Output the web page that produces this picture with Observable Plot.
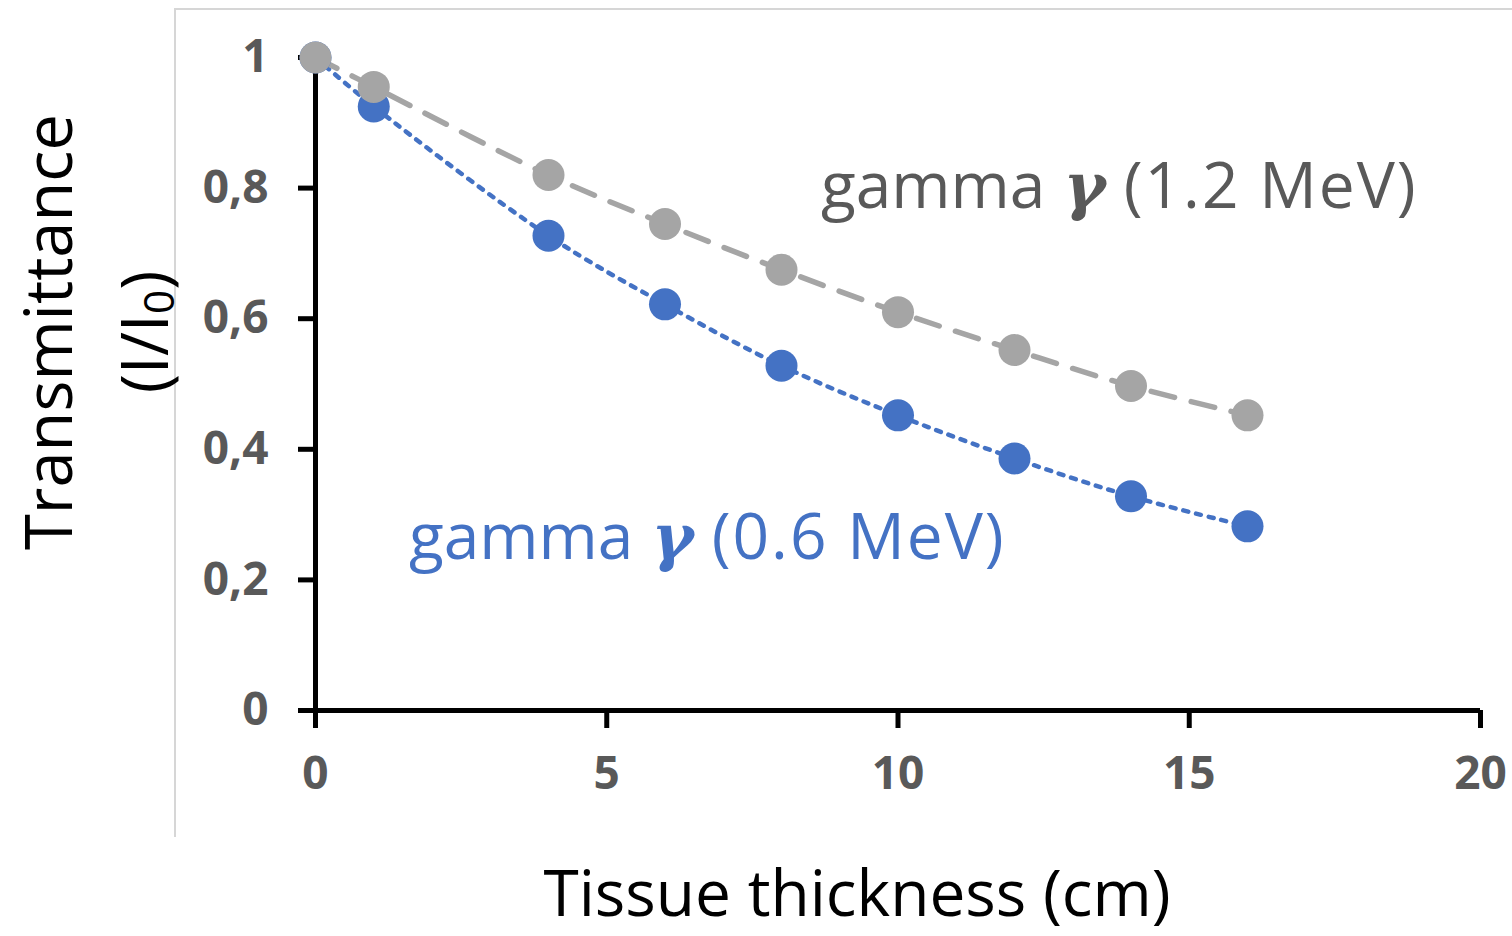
<!DOCTYPE html>
<html><head><meta charset="utf-8">
<script src="https://cdn.jsdelivr.net/npm/d3@7"></script>
<script src="https://cdn.jsdelivr.net/npm/@observablehq/plot@0.6"></script>
<style>
body{margin:0;background:#fff;}
#wrap{position:relative;width:1512px;height:936px;overflow:hidden;font-family:"Open Sans",sans-serif;}
#wrap svg{position:absolute;left:0;top:0;}
.border{position:absolute;left:174px;top:8px;width:1400px;height:827px;border-left:2px solid #d6d6d6;border-top:2px solid #d6d6d6;}
.lbl{position:absolute;white-space:nowrap;line-height:1;}
.g{font-family:"DejaVu Serif",serif;font-style:italic;font-weight:bold;margin:0 18px 0 18px;}
.p{letter-spacing:2px;}
</style></head><body><div id="wrap"><div class="border"></div></div>
<script>
const thickness = [0, 1, 4, 6, 8, 10, 12, 14, 16];
const gamma12 = [1, 0.955, 0.82, 0.745, 0.675, 0.61, 0.552, 0.497, 0.452];
const gamma06 = [1, 0.925, 0.727, 0.622, 0.528, 0.452, 0.386, 0.328, 0.282];
const xTicks = [0, 5, 10, 15, 20];
const yTicks = [0, 0.2, 0.4, 0.6, 0.8, 1];
const seriesNames = ["gamma γ (1.2 MeV)", "gamma γ (0.6 MeV)"];
const xLabel = "Tissue thickness (cm)";
const yLabel = "Transmittance";

const gray = "#A5A5A5", blue = "#4472C4";
const d12 = thickness.map((t, i) => ({t, v: gamma12[i]}));
const d06 = thickness.map((t, i) => ({t, v: gamma06[i]}));
const fmt = d => String(d).replace(".", ",");

const plot = Plot.plot({
  width: 1512, height: 936,
  marginLeft: 315, marginRight: 32, marginTop: 57, marginBottom: 226,
  style: {fontFamily: "Open Sans, sans-serif", background: "transparent", overflow: "visible"},
  x: {domain: [0, 20]},
  y: {domain: [0, 1]},
  marks: [
    Plot.axisY({ticks: yTicks, tickSize: 17, tickPadding: 30, tickFormat: fmt, stroke: "black", strokeWidth: 5, fill: "#595959", fontSize: 46, fontWeight: "bold", label: null}),
    Plot.axisX({ticks: xTicks, tickSize: 18, tickPadding: 28, stroke: "black", strokeWidth: 5, fill: "#595959", fontSize: 46, fontWeight: "bold", label: null}),
    Plot.ruleX([0], {y1: 0, y2: 1, stroke: "black", strokeWidth: 5}),
    Plot.ruleY([0], {x1: 0, x2: 20, stroke: "black", strokeWidth: 5}),
    Plot.line(d06, {x: "t", y: "v", stroke: blue, strokeWidth: 4.5, strokeDasharray: "5 8", curve: "catmull-rom"}),
    Plot.line(d12, {x: "t", y: "v", stroke: gray, strokeWidth: 5.5, strokeDasharray: "24 17", curve: "catmull-rom"}),
    Plot.dot(d06, {x: "t", y: "v", r: 16, fill: blue}),
    Plot.dot(d12, {x: "t", y: "v", r: 16, fill: gray})
  ]
});
const wrap = document.getElementById("wrap");
wrap.appendChild(plot);

function addLabel(html, css) {
  const d = document.createElement("div");
  d.className = "lbl";
  d.innerHTML = html;
  Object.assign(d.style, css);
  wrap.appendChild(d);
  return d;
}
const [pre12, post12] = seriesNames[0].split("γ");
const [pre06, post06] = seriesNames[1].split("γ");
addLabel(`${pre12.trim()}<span class="g">γ</span><span class="p">${post12.trim()}</span>`, {left: "821px", top: "152px", fontSize: "64px", color: "#595959"});
addLabel(`${pre06.trim()}<span class="g">γ</span><span class="p">${post06.trim()}</span>`, {left: "409px", top: "503px", fontSize: "64px", color: blue});
addLabel(xLabel, {left: "857px", top: "860px", fontSize: "64px", color: "black", transform: "translateX(-50%)"});
addLabel(yLabel, {left: "47px", top: "332px", fontSize: "65px", color: "black", transform: "translate(-50%,-50%) rotate(-90deg)"});
addLabel("(I/I<sub style='font-size:0.65em;vertical-align:-0.15em'>0</sub>)", {left: "145px", top: "332px", fontSize: "65px", color: "black", transform: "translate(-50%,-50%) rotate(-90deg)"});
</script>
</body></html>
